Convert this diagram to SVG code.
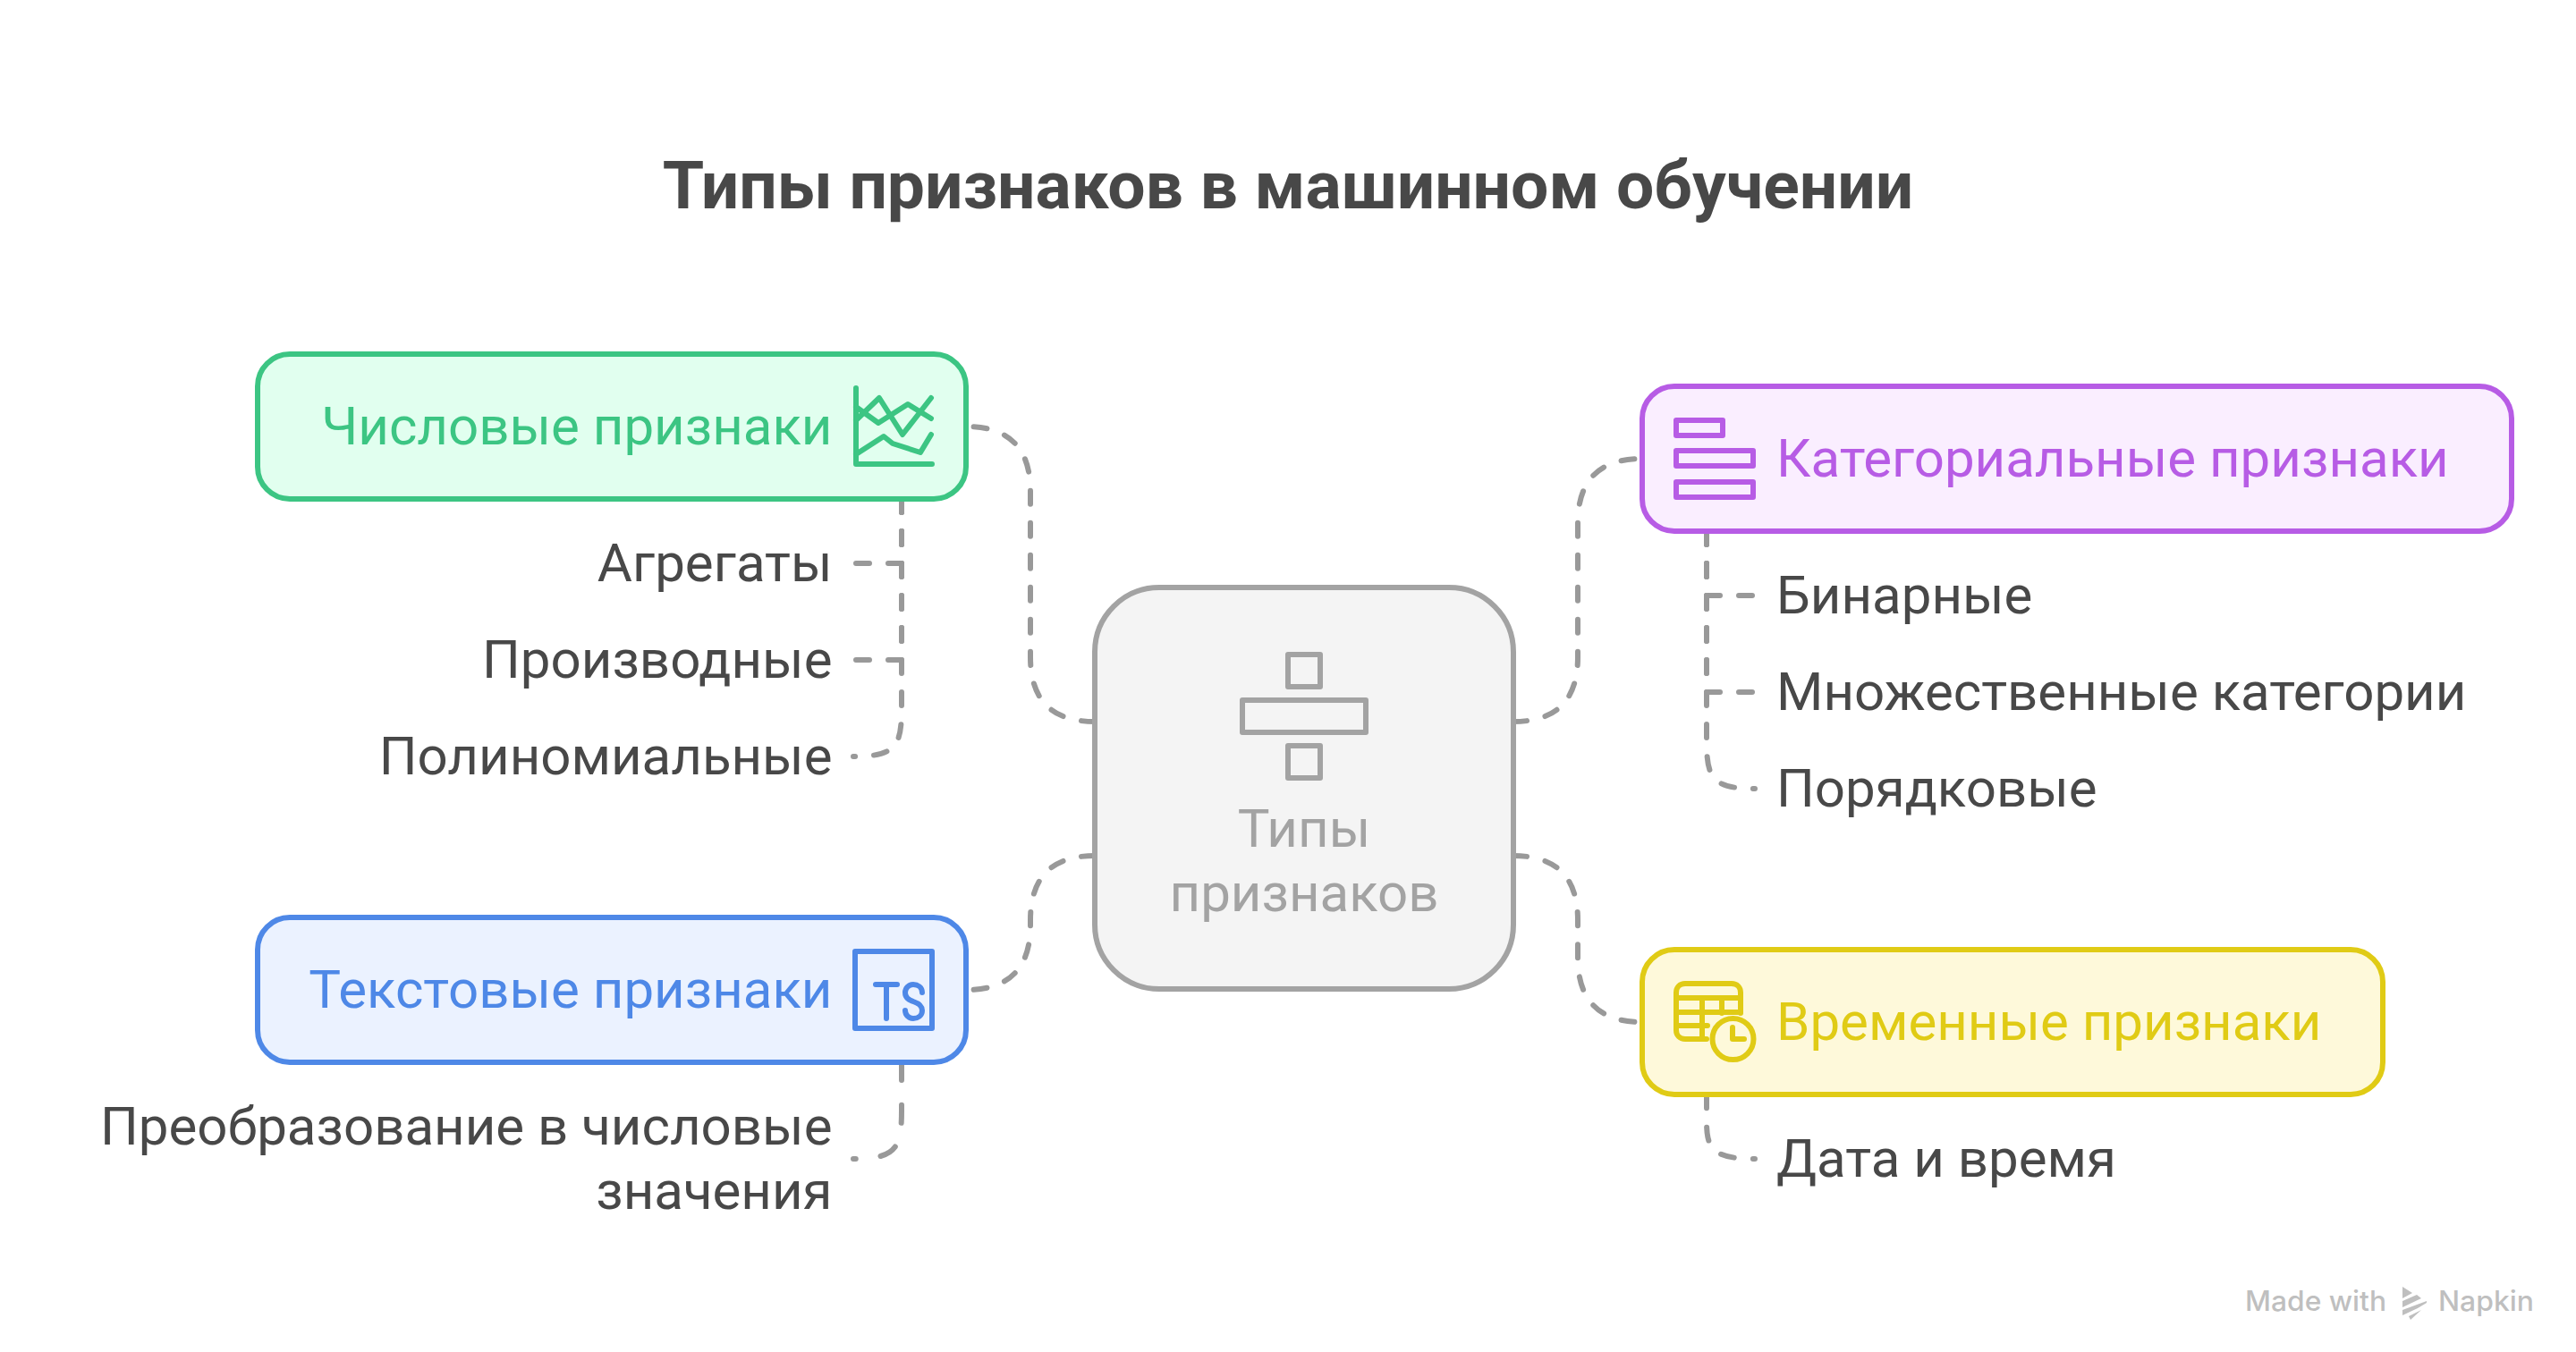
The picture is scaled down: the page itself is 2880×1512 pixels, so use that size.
<svg xmlns="http://www.w3.org/2000/svg" width="2880" height="1512" viewBox="0 0 2880 1512">
<style>
text{font-family:Roboto,"Liberation Sans",sans-serif;font-size:60px}
.title{font-size:75px;font-weight:700;fill:#484848;text-anchor:middle}
.item{fill:#484848}
.r{text-anchor:end}
.c{text-anchor:middle}
.wm{font-family:Inter,"Liberation Sans",sans-serif;font-size:31px;font-weight:500;fill:#bfbfbf}
.box{stroke-width:6}
.ic{fill:none;stroke-width:6;stroke-linecap:round;stroke-linejoin:round}
.con path{fill:none;stroke:#999;stroke-width:6;stroke-linecap:round;stroke-dasharray:15 21}
</style>
<rect width="2880" height="1512" fill="#fff"/>
<text class="title" x="1440" y="233">Типы признаков в машинном обучении</text>
<g id="connectors" class="con">
<path d="M1224 807C1176 807 1152 783 1152 735V549C1152 501 1128 477 1080 477"/>
<path d="M1692 807C1740 807 1764 783 1764 735V585C1764 537 1788 513 1836 513"/>
<path d="M1224 957C1176 957 1152 981 1152 1029V1035C1152 1083 1128 1107 1080 1107"/>
<path d="M1692 957C1740 957 1764 981 1764 1029V1071C1764 1119 1788 1143 1836 1143"/>
<path d="M1008 558V630H954"/>
<path d="M1008 558V738H954"/>
<path pathLength="326" d="M1008 558V792C1008 834 1002 846 954 846"/>
<path d="M1908 594V666H1962"/>
<path d="M1908 594V774H1962"/>
<path pathLength="326" d="M1908 594V828C1908 870 1914 882 1962 882"/>
<path pathLength="110" d="M1008 1188V1242C1008 1284 1002 1296 954 1296"/>
<path pathLength="110" d="M1908 1224V1254C1908 1284 1914 1296 1962 1296"/>
</g>
<g id="center">
<rect class="box" x="1224" y="657" width="468" height="449" rx="72" fill="#f4f4f4" stroke="#a3a3a3"/>
<g class="ic" stroke="#a3a3a3">
<rect x="1440" y="732" width="36" height="36"/>
<rect x="1389" y="783" width="138" height="36"/>
<rect x="1440" y="834" width="36" height="36"/>
</g>
<text class="c" x="1458" y="947" fill="#a3a3a3">Типы</text>
<text class="c" x="1458" y="1019" fill="#a3a3a3">признаков</text>
</g>
<g id="numeric">
<rect class="box" x="288" y="396" width="792" height="162" rx="36" fill="#e1ffef" stroke="#3cc583"/>
<text class="r" x="930.5" y="497" fill="#3cc583">Числовые признаки</text>
<g class="ic" stroke="#3cc583">
<path d="M957 434V519H1042"/>
<path d="M957 470L983 445L1009 486L1041 445"/>
<path d="M957 455L982 473L1015 452L1041 468"/>
<path d="M957 508L988 488L998 496L1029 506L1041 486"/>
</g>
</g>
<g id="numeric-items">
<text class="item r" x="930.5" y="650">Агрегаты</text>
<text class="item r" x="930.5" y="758">Производные</text>
<text class="item r" x="930.5" y="866">Полиномиальные</text>
</g>
<g id="text-node">
<rect class="box" x="288" y="1026" width="792" height="162" rx="36" fill="#ebf2ff" stroke="#4e88e7"/>
<text class="r" x="930.5" y="1127" fill="#4e88e7">Текстовые признаки</text>
<g class="ic" stroke="#4e88e7">
<rect x="956" y="1064" width="86" height="86"/>
<path d="M979 1101H1003M991 1101V1139"/>
<path d="M1031 1110C1031 1104 1026 1101 1021 1101C1016 1101 1012 1105 1012 1110C1012 1116 1016 1118 1021 1120C1027 1122 1031 1125 1031 1130C1031 1136 1026 1139 1021 1139C1016 1139 1012 1135 1012 1130"/>
</g>
</g>
<g id="text-items">
<text class="item r" x="930.5" y="1280">Преобразование в числовые</text>
<text class="item r" x="930.5" y="1352">значения</text>
</g>
<g id="categorical">
<rect class="box" x="1836" y="432" width="972" height="162" rx="36" fill="#faeeff" stroke="#b75ce5"/>
<text x="1986" y="533" fill="#b75ce5">Категориальные признаки</text>
<g class="ic" stroke="#b75ce5">
<rect x="1874" y="470" width="52" height="17"/>
<rect x="1874" y="504" width="86" height="17"/>
<rect x="1874" y="539" width="86" height="17"/>
</g>
</g>
<g id="categorical-items">
<text class="item" x="1986" y="686">Бинарные</text>
<text class="item" x="1986" y="794">Множественные категории</text>
<text class="item" x="1986" y="902">Порядковые</text>
</g>
<g id="temporal">
<rect class="box" x="1836" y="1062" width="828" height="162" rx="36" fill="#fef9da" stroke="#e0cb15"/>
<text x="1986" y="1163" fill="#e0cb15">Временные признаки</text>
<g class="ic" stroke="#e0cb15">
<path d="M1908 1162H1884C1878 1162 1874 1158 1874 1152V1110C1874 1104 1878 1100 1884 1100H1936C1942 1100 1946 1104 1946 1110V1133"/>
<path d="M1874 1116H1946M1874 1132H1946M1874 1147H1909M1903 1116V1162M1925 1116V1133"/>
<circle cx="1937.5" cy="1162" r="23"/>
<path d="M1937 1149V1162H1950"/>
</g>
</g>
<g id="temporal-items">
<text class="item" x="1986" y="1316">Дата и время</text>
</g>
<g id="watermark">
<text class="wm" x="2510" y="1466" textLength="158" lengthAdjust="spacingAndGlyphs">Made with</text>
<g fill="#bfbfbf">
<polygon points="2686,1439 2697,1446 2686,1452"/>
<polygon points="2686,1455 2702,1448 2707,1452 2686,1462"/>
<polygon points="2686,1465 2713,1455 2713,1457 2703,1463 2686,1471"/>
<polygon points="2693,1472 2707,1465 2695,1476"/>
</g>
<text class="wm" x="2726" y="1466" textLength="107" lengthAdjust="spacingAndGlyphs">Napkin</text>
</g>
</svg>
